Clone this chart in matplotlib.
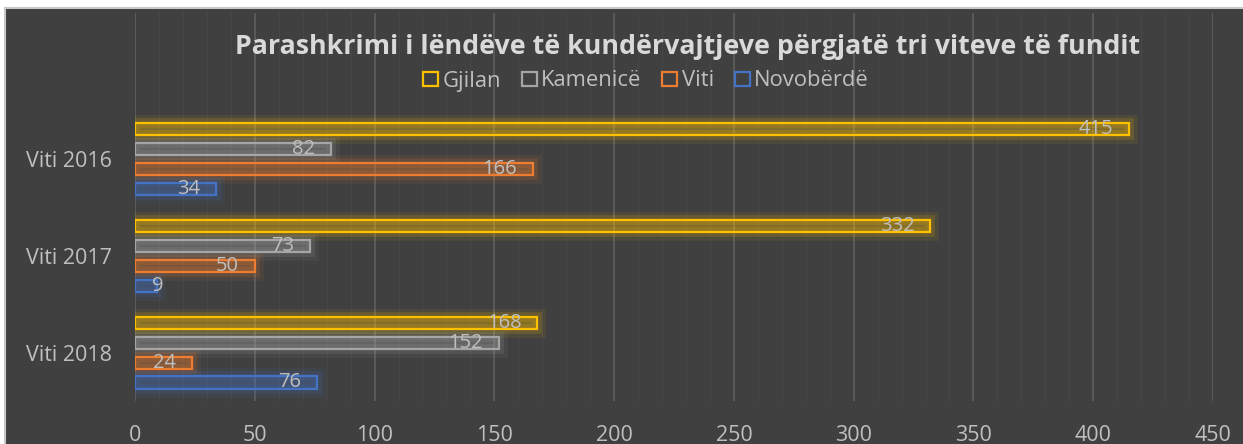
import numpy as np
import matplotlib
matplotlib.use("Agg")
import matplotlib.pyplot as plt
from matplotlib.patches import Patch, Rectangle

plt.rcParams['font.family'] = ['Open Sans', 'DejaVu Sans']

# data
years = ['Viti 2016', 'Viti 2017', 'Viti 2018']
series = ['Gjilan', 'Kamenicë', 'Viti', 'Novobërdë']
gjilan = [415, 332, 168]
kamenice = [82, 73, 152]
viti = [166, 50, 24]
novoberde = [34, 9, 76]
values = [gjilan, kamenice, viti, novoberde]
colors = ['#FFC000', '#A5A5A5', '#ED7D31', '#4472C4']

title = 'Parashkrimi i lëndëve të kundërvajtjeve përgjatë tri viteve të fundit'
bg = '#404040'
txt = '#BFBFBF'

W, H = 1243, 444
fig = plt.figure(figsize=(W / 100, H / 100), dpi=100, facecolor='white')
fig.patches.append(Rectangle((5 / W, -0.01), 1.0, 1 - 8 / H + 0.01, transform=fig.transFigure,
                             facecolor=bg, edgecolor='#c8c8c8', linewidth=1.5, zorder=-5))

ax = fig.add_axes([135 / W, 1 - 401 / H, (1213 - 135) / W, (401 - 13) / H])
ax.set_facecolor('none')

y = np.arange(len(years))
pitch = 0.206
h = 0.124
for i, (vals, c) in enumerate(zip(values, colors)):
    pos = y - 1.5 * pitch + i * pitch
    # soft glow
    ax.barh(pos, vals, height=h, facecolor='none', edgecolor=c, alpha=0.08, linewidth=12, zorder=2)
    ax.barh(pos, vals, height=h, facecolor='none', edgecolor=c, alpha=0.15, linewidth=7, zorder=2)
    ax.barh(pos, vals, height=h, facecolor=c, alpha=0.3, edgecolor='none', zorder=3)
    ax.barh(pos, vals, height=h, facecolor='none', edgecolor=c, linewidth=1.6, zorder=4)

ax.set_xlim(0, 450)
ax.set_ylim(2.5, -1.505)
ax.set_yticks(y)
ax.set_yticklabels(years)
ax.set_xticks(np.arange(0, 451, 50))
ax.set_xticks(np.arange(0, 451, 10), minor=True)
ax.tick_params(axis='both', which='both', length=0, colors=txt, labelsize=15.5)
ax.tick_params(axis='x', pad=17)
ax.tick_params(axis='y', pad=16.5)
ax.grid(axis='x', which='major', color='#5c5c5c', linewidth=1.3, zorder=0)
ax.grid(axis='x', which='minor', color='#474747', linewidth=0.8, zorder=0)
ax.set_axisbelow(True)
for s in ax.spines.values():
    s.set_visible(False)

# data labels: inside end, pushed right when the bar is too short
labels = []
for i, vals in enumerate(values):
    pos = y - 1.5 * pitch + i * pitch
    for v, p in zip(vals, pos):
        t = ax.annotate(str(v), (v, p), xytext=(-16, 0), textcoords='offset pixels',
                        ha='right', va='center', color=txt, fontsize=14.5, zorder=5)
        labels.append((t, v, p))
fig.canvas.draw()
r = fig.canvas.get_renderer()
x0 = ax.transData.transform((0, 0))[0]
for t, v, p in labels:
    bb = t.get_window_extent(r)
    if bb.x0 < x0 + 17:
        t.xy = (0, p)
        t.xyann = (17, 0)
        t.set_ha('left')

fig.text(687.5 / W, 1 - 47 / H, title, ha='center', va='center', color='#D9D9D9',
         fontsize=19.3, fontweight='bold')

handles = [Patch(facecolor='none', edgecolor=c, linewidth=1.6, label=s) for s, c in zip(series, colors)]
fig.legend(handles=handles, loc='center', bbox_to_anchor=(646 / W, 1 - 81 / H), ncol=4,
           frameon=False, fontsize=15.8, labelcolor=txt, handlelength=0.68, handleheight=0.62,
           handletextpad=0.2, columnspacing=0.95)

fig.savefig('out.png', dpi=100, facecolor=fig.get_facecolor())
